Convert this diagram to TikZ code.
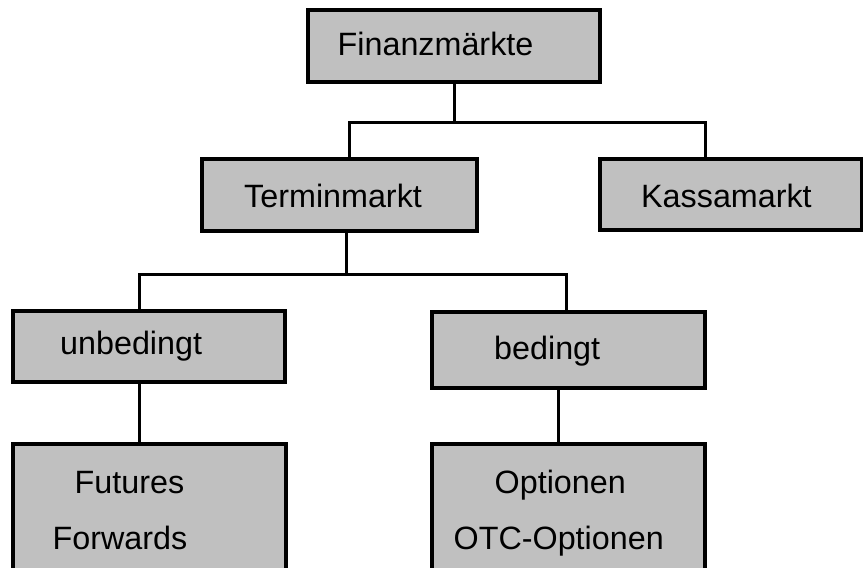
\documentclass[tikz,border=0pt]{standalone}
\usepackage{fontspec}
\setmainfont{Liberation Sans}
\definecolor{boxgray}{HTML}{C0C0C0}
\tikzset{
  box/.style={draw=black, fill=boxgray, line width=3.5pt, rectangle, inner sep=0pt},
  lbl/.style={anchor=base west, inner sep=0pt, font=\fontsize{32.3}{39}\selectfont},
  link/.style={draw=black, line width=3pt}
}
\begin{document}
\begin{tikzpicture}[x=1pt, y=-1pt]
  \clip (0,0) rectangle (863,568);
  \fill[white] (0,0) rectangle (863,568);

  % boxes (centre, size)
  \node[box, minimum width=292pt, minimum height=72pt] (fin)   at (454,46) {};
  \node[box, minimum width=275pt, minimum height=72pt] (term)  at (339.5,195) {};
  \node[box, minimum width=262pt, minimum height=71pt] (kassa) at (731,194.5) {};
  \node[box, minimum width=272pt, minimum height=71pt] (unb)   at (149,346.5) {};
  \node[box, minimum width=273pt, minimum height=76pt] (bed)   at (568.5,350) {};
  \node[box, minimum width=273pt, minimum height=160pt] (fut)  at (149.5,524) {};
  \node[box, minimum width=273pt, minimum height=160pt] (opt)  at (568.5,524) {};

  % labels
  \node[lbl] at (337.5,55) {Finanzmärkte};
  \node[lbl] at (244,207)  {Terminmarkt};
  \node[lbl] at (641,207)  {Kassamarkt};
  \node[lbl] at (60,354)   {unbedingt};
  \node[lbl] at (494,359)  {bedingt};
  \node[lbl] at (74.5,493) {Futures};
  \node[lbl] at (52.5,549) {Forwards};
  \node[lbl] at (494.5,493){Optionen};
  \node[lbl] at (453.5,549){OTC-Optionen};

  % connectors
  \draw[link] (fin.south) -- ++(0,39) coordinate (bus1);
  \draw[link] ([xshift=9.5pt]term.north) |- (bus1) -| ([xshift=-26pt]kassa.north);
  \draw[link] ([xshift=6.5pt]term.south) -- ++(0,42) coordinate (bus2);
  \draw[link] ([xshift=-10pt]unb.north) |- (bus2) -| ([xshift=-2.5pt]bed.north);
  \draw[link] ([xshift=-10pt]unb.south) -- ([xshift=-10pt]unb.south |- fut.north);
  \draw[link] ([xshift=-10.5pt]bed.south) -- ([xshift=-10.5pt]bed.south |- opt.north);
\end{tikzpicture}
\end{document}
